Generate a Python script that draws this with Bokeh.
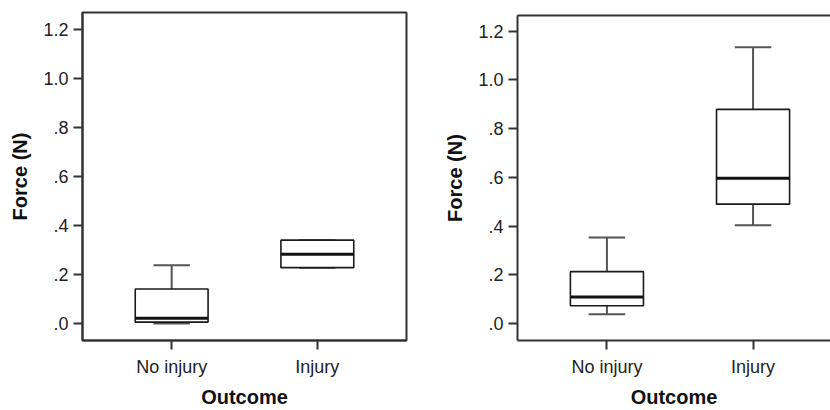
from bokeh.plotting import figure
from bokeh.models import Range1d, FixedTicker, LinearAxis, CustomJSTickFormatter
from bokeh.layouts import row, column
from bokeh.embed import file_html
from bokeh.resources import INLINE

# ---- data -------------------------------------------------------------
categories = ["No injury", "Injury"]
y_ticks = [0.0, 0.2, 0.4, 0.6, 0.8, 1.0, 1.2]

# left panel
left_lower = [0.000, 0.228]
left_q1 = [0.006, 0.228]
left_median = [0.022, 0.283]
left_q3 = [0.141, 0.340]
left_upper = [0.238, 0.340]

# right panel
right_lower = [0.038, 0.403]
right_q1 = [0.073, 0.490]
right_median = [0.109, 0.596]
right_q3 = [0.213, 0.879]
right_upper = [0.353, 1.134]

FONT = "Liberation Sans"
FRAME = "#333333"
BOX_W = 0.5
CAP_W = 0.25


def make_panel(lower, q1, med, q3, upper, width, b_left, b_right, b_top, b_bottom,
               x_end, y_start, y_end, full_box):
    xs = [i + 1 for i in range(len(categories))]
    p = figure(width=width, height=410, output_backend="svg", toolbar_location=None,
               x_range=Range1d(0.388, x_end), y_range=Range1d(y_start, y_end),
               min_border_left=b_left, min_border_right=b_right,
               min_border_top=b_top, min_border_bottom=b_bottom,
               background_fill_color="white", border_fill_color="white")
    p.grid.visible = False
    bx = p.below[0]
    ly = p.left[0]
    if full_box:
        p.outline_line_color = FRAME
        p.outline_line_width = 2
        p.outline_line_alpha = 1
    else:
        p.outline_line_color = None
        top = LinearAxis(ticker=FixedTicker(ticks=[]), axis_line_color=FRAME,
                         axis_line_width=2, major_tick_out=0, major_tick_in=0,
                         minor_tick_out=0, minor_tick_in=0,
                         major_label_text_font_size="0px", major_label_standoff=0,
                         axis_label=None)
        p.add_layout(top, "above")

    for ax in (bx, ly):
        ax.axis_line_color = FRAME
        ax.axis_line_width = 2
        ax.major_tick_out = 9
        ax.major_tick_in = 0
        ax.major_tick_line_color = FRAME
        ax.major_tick_line_width = 2
        ax.minor_tick_line_color = None
        ax.major_label_text_font = FONT
        ax.major_label_text_font_size = "18px"
        ax.major_label_text_color = "#222222"
        ax.axis_label_text_font = FONT
        ax.axis_label_text_font_size = "20px"
        ax.axis_label_text_font_style = "bold"
        ax.axis_label_text_color = "#111111"

    bx.ticker = FixedTicker(ticks=xs)
    bx.major_label_overrides = {x: c for x, c in zip(xs, categories)}
    bx.axis_label = "Outcome"
    bx.major_label_standoff = 7
    bx.axis_label_standoff = 6

    ly.ticker = FixedTicker(ticks=y_ticks)
    ly.formatter = CustomJSTickFormatter(
        code="return tick.toFixed(1).replace(/^0/, '');")
    ly.axis_label = "Force (N)"
    ly.major_label_standoff = 5
    ly.axis_label_standoff = 9

    # whiskers
    p.segment(x0=xs, y0=q3, x1=xs, y1=upper, line_color="#555555", line_width=2)
    p.segment(x0=xs, y0=lower, x1=xs, y1=q1, line_color="#555555", line_width=2)
    p.segment(x0=[x - CAP_W / 2 for x in xs], y0=upper, x1=[x + CAP_W / 2 for x in xs],
              y1=upper, line_color="#555555", line_width=2)
    p.segment(x0=[x - CAP_W / 2 for x in xs], y0=lower, x1=[x + CAP_W / 2 for x in xs],
              y1=lower, line_color="#555555", line_width=2)
    # boxes
    p.vbar(x=xs, width=BOX_W, bottom=q1, top=q3, fill_color="white",
           line_color="#1a1a1a", line_width=1.6)
    # medians
    p.segment(x0=[x - BOX_W / 2 for x in xs], y0=med, x1=[x + BOX_W / 2 for x in xs],
              y1=med, line_color="#111111", line_width=3)
    return p


p1 = make_panel(left_lower, left_q1, left_median, left_q3, left_upper,
                width=420, b_left=82, b_right=14, b_top=12, b_bottom=69,
                x_end=2.612, y_start=-0.069, y_end=1.268, full_box=True)
p2 = make_panel(right_lower, right_q1, right_median, right_q3, right_upper,
                width=410, b_left=97, b_right=0, b_top=15, b_bottom=69,
                x_end=2.530, y_start=-0.0697, y_end=1.2645, full_box=False)

layout = row(column(p1), column(p2), spacing=0)
open("out.html", "w").write(file_html(layout, INLINE))
